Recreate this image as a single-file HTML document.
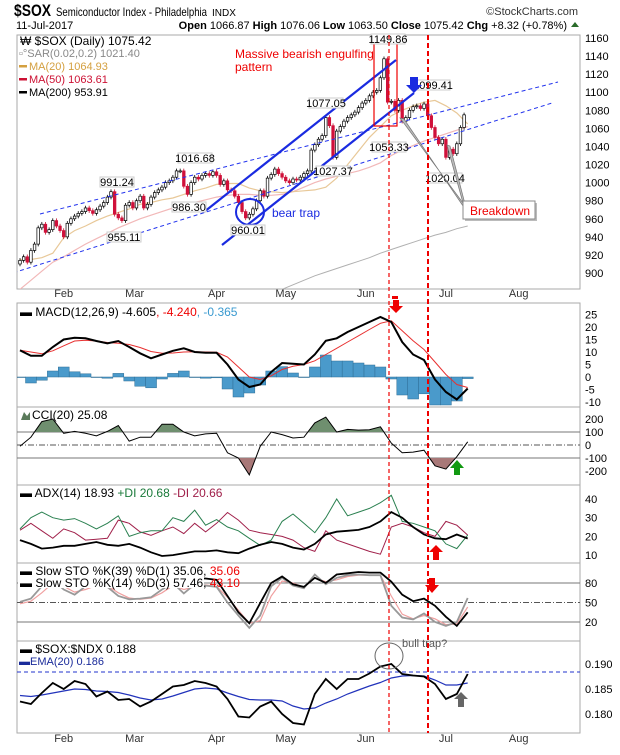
<!DOCTYPE html>
<html><head><meta charset="utf-8"><style>
body{margin:0;background:#fff;width:620px;height:750px;overflow:hidden;font-family:"Liberation Sans",sans-serif}
svg text{font-family:"Liberation Sans",sans-serif}
</style></head><body>
<svg id="c" width="620" height="750" xmlns="http://www.w3.org/2000/svg"></svg>
<script>
const closes=[914,918,912,925,932,950,954,945,948,958,952,947,940,955,960,963,966,968,972,969,966,970,974,978,984,990,965,961,958,975,978,972,980,985,972,976,984,989,992,995,1000,1002,1006,1013,1013,996,987,1000,1006,1004,1008,1010,1008,1012,1008,998,1002,992,991,985,978,968,961,965,971,980,991,985,1005,1009,1015,1010,1006,1002,1000,1004,1003,1006,1010,1013,1036,1042,1048,1052,1072,1063,1028,1057,1062,1068,1072,1075,1078,1083,1088,1091,1096,1100,1102,1116,1137,1089,1090,1080,1091,1068,1072,1080,1084,1085,1082,1087,1074,1061,1050,1043,1048,1028,1037,1032,1043,1061,1075];
const ma20=[915,915,917,922,939,947,952,958,963,967,971,976,978,981,983,987,991,994,998,999,999,994,991,990,989,990,991,992,995,1005,1020,1035,1050,1062,1074,1080,1085,1089,1091,1085,1077,1065];
const ma50=[882,892,902,912,918,925,932,938,944,950,955,960,964,968,972,975,978,981,984,986,987,987,986,986,987,990,995,1000,1004,1007,1010,1013,1017,1022,1030,1036,1041,1046,1050,1054,1058,1062];
const ma200=[830,833,836,839,842,845,848,851,854,857,860,862,864,866,868,870,872,874,876,877,878,879,880,881,882,887,892,897,901,905,909,913,917,922,926,930,934,938,942,945,949,952];
const macd=[10.7,8.5,8.5,12,15,15.7,15.5,14.4,13.5,14.4,12,9.5,7.5,9,10.5,11.5,10,9.7,9.7,5,-1,-4,-3,2,5.6,5.3,5,9,14.5,15.5,18,20,22,24,22,14,9,6.8,-1,-6,-9,-4.6];
const signal=[10.7,10,9.3,10.5,12.5,14.4,14.7,14.4,13.8,13.5,13,11.8,10.2,9.5,9.6,10,10.1,10,9.9,8,4,0,-1,0.5,3,4.3,5,6.5,9,11.5,14,16.5,19,21.5,22.5,18.5,14.5,11,6,1,-3,-4.2];
const cci=[-10,60,180,200,90,105,90,70,105,150,30,60,60,160,160,100,70,85,90,-60,-100,-230,-10,100,80,54,60,170,215,100,120,115,118,140,15,-60,-55,-40,-160,-185,-90,25];
const adx=[18,16,13.5,14,15,15,16,17,15.5,15,16,14,11.5,9.5,10,11,12,12,12.5,11.5,11,13.5,15.5,17,16,14,13,16,21,22.5,23,23.5,25,28,33,30,25,21,19,18.5,21,18.9];
const pdi=[24,30,33,30,28.7,29.5,27,24,27,31,20,22,23,23,30,28,34,26,29,25,23,19,15.2,18,28,32,27,22,30,40,31,33,35,38,42,28,27,25,23,16,13.5,20.7];
const mdi=[23.3,27,23,19,24,22,18,18.5,19,28.7,27,22.4,20.6,23,25,21.5,27,22.4,27,32.8,28.7,23.3,22,21,20,18,14,12,23,18,16,14,12,10.5,25,27,25,22,20,28,26,20.7];
const sto39=[85,88,90,92,88,85,88,90,88,85,82,84,86,88,90,88,87,87,85,60,35,18,49,80,90,78,74,88,80,93,95,97,96,96,82,62,52,56,45,28,14,35];
const sto14=[51,56,75,85,70,62,75,78,74,60,55,56,58,70,80,64,78,76,74,50,30,11,30,75,88,76,72,93,78,88,92,93,92,92,45,27,24,33,20,14,20,57];
const sto14d=[48,52,65,80,75,66,70,76,76,65,57,55,57,65,76,70,74,77,75,58,38,18,22,60,83,80,73,88,82,85,90,92,92,92,60,32,25,30,25,16,17,43];
const ratio=[0.1825,0.1820,0.1842,0.1862,0.1850,0.1866,0.1860,0.1835,0.1845,0.1828,0.1830,0.1815,0.1825,0.1840,0.1855,0.1858,0.1866,0.1862,0.1855,0.1830,0.1795,0.1793,0.1815,0.1825,0.1800,0.1782,0.1779,0.1840,0.1870,0.1850,0.1870,0.1870,0.1881,0.1895,0.1900,0.1880,0.1877,0.1875,0.1860,0.1830,0.1840,0.1880];
const ratioEma=[0.1837,0.1835,0.1838,0.1842,0.1846,0.1850,0.1849,0.1846,0.1845,0.1843,0.1838,0.1832,0.1828,0.1830,0.1836,0.1843,0.1850,0.1852,0.1850,0.1842,0.1835,0.1829,0.1828,0.1828,0.1826,0.1816,0.1810,0.1812,0.1822,0.1830,0.1840,0.1848,0.1856,0.1863,0.1872,0.1876,0.1877,0.1876,0.1868,0.1858,0.1858,0.1862];
const months=["Feb","Mar","Apr","May","Jun","Jul","Aug"];
const monthIdx=[12,31.5,54,73,95,117,137];
const priceTicks=[900,920,940,960,980,1000,1020,1040,1060,1080,1100,1120,1140,1160];
const macdTicks=[-10,-5,0,5,10,15,20,25];
const cciTicks=[-200,-100,0,100,200];
const adxTicks=[10,20,30,40];
const stoTicks=[20,50,80];
const ratioTicks=[0.180,0.185,0.190];

const NS="http://www.w3.org/2000/svg",svg=document.getElementById('c');
function el(t,a,p){const e=document.createElementNS(NS,t);for(const k in a)e.setAttribute(k,a[k]);(p||svg).appendChild(e);return e;}
function tx(s,x,y,a,p){const e=el('text',Object.assign({x:x,y:y,'font-size':11,fill:'#000'},a||{}),p);e.textContent=s;return e;}
const L=17,R=580;
const X=i=>20+i*3.64;
const Yp=p=>38+(1160-p)*0.904;
const Ym=v=>377-v*2.5;
const Yc=v=>445-v*0.13;
const Ya=v=>499+(40-v)*1.87;
const Ys=v=>583+(80-v)*0.65;
const Yr=v=>664+(0.190-v)*5000;
const panels=[[35,289],[303,407],[407,485],[485,563],[563,641],[641,733]];
const defs=el('defs',{});
panels.forEach((p,k)=>{const cp=el('clipPath',{id:'cp'+k},defs);el('rect',{x:L,y:p[0],width:R-L,height:p[1]-p[0]},cp);});
function line(arr,Y,col,w,k,name){const pts=arr.map((v,j)=>X(j*3).toFixed(1)+','+Y(v).toFixed(1)).join(' ');const e=el('polyline',{points:pts,fill:'none',stroke:col,'stroke-width':w,'clip-path':'url(#cp'+k+')'});return e;}
function hline(y,col,dash,w){el('line',{x1:L,x2:R,y1:y,y2:y,stroke:col,'stroke-width':w||1,'stroke-dasharray':dash||'none'});}

// header
const h=el('g',{});
tx('$SOX',14,16,{'font-size':17,'font-weight':'bold',textLength:37,lengthAdjust:'spacingAndGlyphs'},h);
tx('Semiconductor Index - Philadelphia',56,16,{'font-size':12,textLength:151,lengthAdjust:'spacingAndGlyphs'},h);
tx('INDX',212,16,{'font-size':10},h);
tx('©StockCharts.com',578,15,{'font-size':11,'text-anchor':'end',fill:'#333'},h);
tx('11-Jul-2017',16,29,{'font-size':11},h);
const hd=tx('',567,29,{'font-size':11,'text-anchor':'end'},h);
hd.innerHTML='<tspan font-weight="bold">Open</tspan> 1066.87 <tspan font-weight="bold">High</tspan> 1076.06 <tspan font-weight="bold">Low</tspan> 1063.50 <tspan font-weight="bold">Close</tspan> 1075.42 <tspan font-weight="bold">Chg</tspan> +8.32 (+0.78%)';
el('path',{d:'M571 27 L579 27 L575 22 Z',fill:'#2a6b2a'},h);

// panel frames
panels.forEach(p=>{el('rect',{x:L,y:p[0],width:R-L,height:p[1]-p[0],fill:'none',stroke:'#aaa'});});
priceTicks.forEach(v=>tx(v,585,Yp(v)+4,{'font-size':11}));
macdTicks.forEach(v=>tx(v,585,Ym(v)+4,{'font-size':11}));
cciTicks.forEach(v=>tx(v,585,Yc(v)+4,{'font-size':11}));
adxTicks.forEach(v=>tx(v,585,Ya(v)+4,{'font-size':11}));
stoTicks.forEach(v=>tx(v,585,Ys(v)+4,{'font-size':11}));
ratioTicks.forEach(v=>tx(v.toFixed(3),585,Yr(v)+4,{'font-size':11}));
months.forEach((m,j)=>{tx(m,X(monthIdx[j]),297,{'font-size':11,'text-anchor':'middle',fill:'#333'});tx(m,X(monthIdx[j]),742,{'font-size':11,'text-anchor':'middle',fill:'#333'});});

// main panel
line(ma200,Yp,'#b0b0b0',1,0,'ma200-line');
line(ma50,Yp,'#f2b8b8',1.2,0,'ma50-line');
line(ma20,Yp,'#e8c898',1.2,0,'ma20-line');
closes.forEach((c,i)=>{const o=i?closes[i-1]:c-4;const hi=Math.max(o,c)+2.5,lo=Math.min(o,c)-2.5;const x=X(i);const up=c>=o;
 const g=el('g',{'clip-path':'url(#cp0)'});
 el('line',{x1:x,x2:x,y1:Yp(hi),y2:Yp(lo),stroke:up?'#000':'#c8102e','stroke-width':0.8},g);
 el('rect',{x:x-1.3,y:Yp(Math.max(o,c)),width:2.6,height:Math.max(1,Math.abs(Yp(o)-Yp(c))),fill:up?'#fff':'#d0103a',stroke:up?'#000':'#d0103a','stroke-width':0.7},g);});
const an=el('g',{'clip-path':'url(#cp0)'});
el('line',{x1:40,y1:214,x2:558,y2:82,stroke:'#2233ee','stroke-dasharray':'4,3','stroke-width':1},an);
el('line',{x1:0,y1:277,x2:552,y2:103,stroke:'#2233ee','stroke-dasharray':'4,3','stroke-width':1},an);
el('line',{x1:204,y1:212,x2:396,y2:60,stroke:'#1a2be0','stroke-width':2.2},an);
el('line',{x1:222,y1:245,x2:414,y2:93,stroke:'#1a2be0','stroke-width':2.2},an);
el('ellipse',{cx:250,cy:212,rx:14,ry:13,fill:'none',stroke:'#1a2be0','stroke-width':2},an);
tx('bear trap',272,217,{'font-size':12,fill:'#1a2be0'});
el('rect',{x:374,y:42,width:23,height:84,fill:'none',stroke:'#e00','stroke-width':1.2},an);
tx('Massive bearish engulfing',235,58,{'font-size':12,fill:'#e00'});
tx('pattern',235,71,{'font-size':12,fill:'#e00'});
[['1149.86',371,34],['1077.05',309,98],['1016.68',178,153],['991.24',100,177],['986.30',172,202],['955.11',107,232],['960.01',231,225],['1027.37',316,166],['1053.33',372,142],['1099.41',416,80],['1020.04',428,173]].forEach(a=>{const g=el('g',{});el('rect',{x:a[1],y:a[2],width:34,height:10,fill:'#fff',stroke:'#ccc'},g);tx(a[0],a[1]+17,a[2]+9,{'font-size':11,'text-anchor':'middle'},g);});
el('path',{d:'M410 77 L418 77 L418 85 L422 85 L414 93 L406 85 L410 85 Z',fill:'#1a2be0'});
el('polygon',{points:'463,203 400,118 404,119 463,206',fill:'#bbb',stroke:'#777','stroke-width':0.7});
el('polygon',{points:'463,203 447,145 450,146 465,204',fill:'#bbb',stroke:'#777','stroke-width':0.7});
const bd=el('g',{});
el('rect',{x:465,y:203,width:72,height:18,fill:'#bbb'},bd);
el('rect',{x:463,y:201,width:72,height:18,fill:'#fff',stroke:'#888'},bd);
tx('Breakdown',470,215,{'font-size':12,fill:'#e00'},bd);
const lg=el('g',{});
tx('₩ $SOX (Daily) 1075.42',20,45,{'font-size':12},lg);
tx('▫°SAR(0.02,0.2) 1021.40',19,57,{'font-size':11,fill:'#888'},lg);
[['MA(20) 1064.93','#d4a040',70],['MA(50) 1063.61','#cc1133',83],['MA(200) 953.91','#000',96]].forEach(m=>{el('rect',{x:19,y:m[2]-5,width:8,height:2.5,fill:m[1]},lg);tx(m[0],29,m[2],{'font-size':11,fill:m[1]},lg);});

// MACD
const hg=el('g',{'clip-path':'url(#cp1)'});
macd.forEach((v,j)=>{const d=(v-signal[j])*1.6;const y0=Ym(0),y1=Ym(d);el('rect',{x:X(j*3)-5.4,y:Math.min(y0,y1),width:10.9,height:Math.max(0.5,Math.abs(y1-y0)),fill:'#4a9acb',stroke:'#2e6e96','stroke-width':0.5},hg);});
line(signal,Ym,'#e83030',1,1,'macd-signal-line');
line(macd,Ym,'#000',2,1,'macd-line');
const ml=tx('',20,316,{'font-size':12});ml.innerHTML='▬ MACD(12,26,9) -4.605<tspan fill="#e00">, -4.240</tspan><tspan fill="#3a9ad0">, -0.365</tspan>';
el('path',{d:'M393 300 L399 300 L399 306 L403 306 L396 313 L389 306 L393 306 Z',fill:'#e00'});

// CCI
hline(Yc(100),'#777');hline(Yc(-100),'#777');hline(Yc(0),'#555','6,2,1,2');
const cciPts=cci.map((v,j)=>X(j*3).toFixed(1)+','+Yc(v).toFixed(1)).join(' ');
const cpU=el('clipPath',{id:'cu'},defs);el('rect',{x:L,y:407,width:R-L,height:Yc(100)-407},cpU);
const cpD=el('clipPath',{id:'cd'},defs);el('rect',{x:L,y:Yc(-100),width:R-L,height:485-Yc(-100)},cpD);
el('polygon',{points:X(0)+','+Yc(100)+' '+cciPts+' '+X(123)+','+Yc(100),fill:'#6f8f6f','clip-path':'url(#cu)'});
el('polygon',{points:X(0)+','+Yc(-100)+' '+cciPts+' '+X(123)+','+Yc(-100),fill:'#a87878','clip-path':'url(#cd)'});
line(cci,Yc,'#000',1,2,'cci-line');
tx('CCI(20) 25.08',32,419,{'font-size':12});
el('path',{d:'M21 420 L24 412 L27 416 L30 412 L30 420 Z',fill:'#5a7a5a'});
el('path',{d:'M454 475 L454 468 L450 468 L457 460 L464 468 L460 468 L460 475 Z',fill:'#119911'});

// ADX
line(mdi,Ya,'#a0204a',1,3,'minus-di-line');
line(pdi,Ya,'#2a8050',1,3,'plus-di-line');
line(adx,Ya,'#000',1.8,3,'adx-line');
const al=tx('',20,497,{'font-size':12});al.innerHTML='▬ ADX(14) 18.93 <tspan fill="#1a7a3a">+DI 20.68</tspan> <tspan fill="#a0204a">-DI 20.66</tspan>';
el('path',{d:'M433 560 L433 552 L429 552 L436 545 L443 552 L439 552 L439 560 Z',fill:'#e00'});

// STO
hline(Ys(80),'#777');hline(Ys(20),'#777');hline(Ys(50),'#555','6,2,1,2');
line(sto14d,Ys,'#f0a0a0',1.2,4,'sto14-d-line');
line(sto14,Ys,'#999',1.8,4,'sto14-k-line');
line(sto39,Ys,'#000',1.8,4,'sto39-line');
el('rect',{x:18,y:564,width:186,height:24,fill:'#fff'});
const s1=tx('',20,575,{'font-size':12});s1.innerHTML='▬ Slow STO %K(39) %D(1) 35.06, <tspan fill="#e00">35.06</tspan>';
const s2=tx('',20,587,{'font-size':12});s2.innerHTML='▬ Slow STO %K(14) %D(3) 57.46, <tspan fill="#e00">43.10</tspan>';
el('path',{d:'M429 578 L435 578 L435 585 L439 585 L432 593 L425 585 L429 585 Z',fill:'#e00'});

// ratio
el('line',{x1:L,x2:R,y1:672,y2:672,stroke:'#2233cc','stroke-dasharray':'4,3'});
line(ratioEma,Yr,'#2233bb',1.2,5,'ratio-ema-line');
line(ratio,Yr,'#000',1.8,5,'sox-ndx-ratio-line');
el('ellipse',{cx:389,cy:656,rx:14,ry:13,fill:'none',stroke:'#666','stroke-width':1});
tx('bull trap?',402,647,{'font-size':11,fill:'#555'});
tx('▬ $SOX:$NDX 0.188',20,653,{'font-size':12});
tx('▬EMA(20) 0.186',19,665,{'font-size':11,fill:'#1a2b9a'});
el('path',{d:'M458 707 L458 699 L454 699 L461 692 L468 699 L464 699 L464 707 Z',fill:'#666'});

// event lines
el('line',{x1:389,x2:389,y1:35,y2:733,stroke:'#e00','stroke-dasharray':'4,3','stroke-width':1.2});
el('line',{x1:428,x2:428,y1:35,y2:733,stroke:'#e00','stroke-dasharray':'5,3','stroke-width':2});
el('rect',{x:392,y:296,width:6,height:3,fill:'#e00'});
</script>
</body></html>
